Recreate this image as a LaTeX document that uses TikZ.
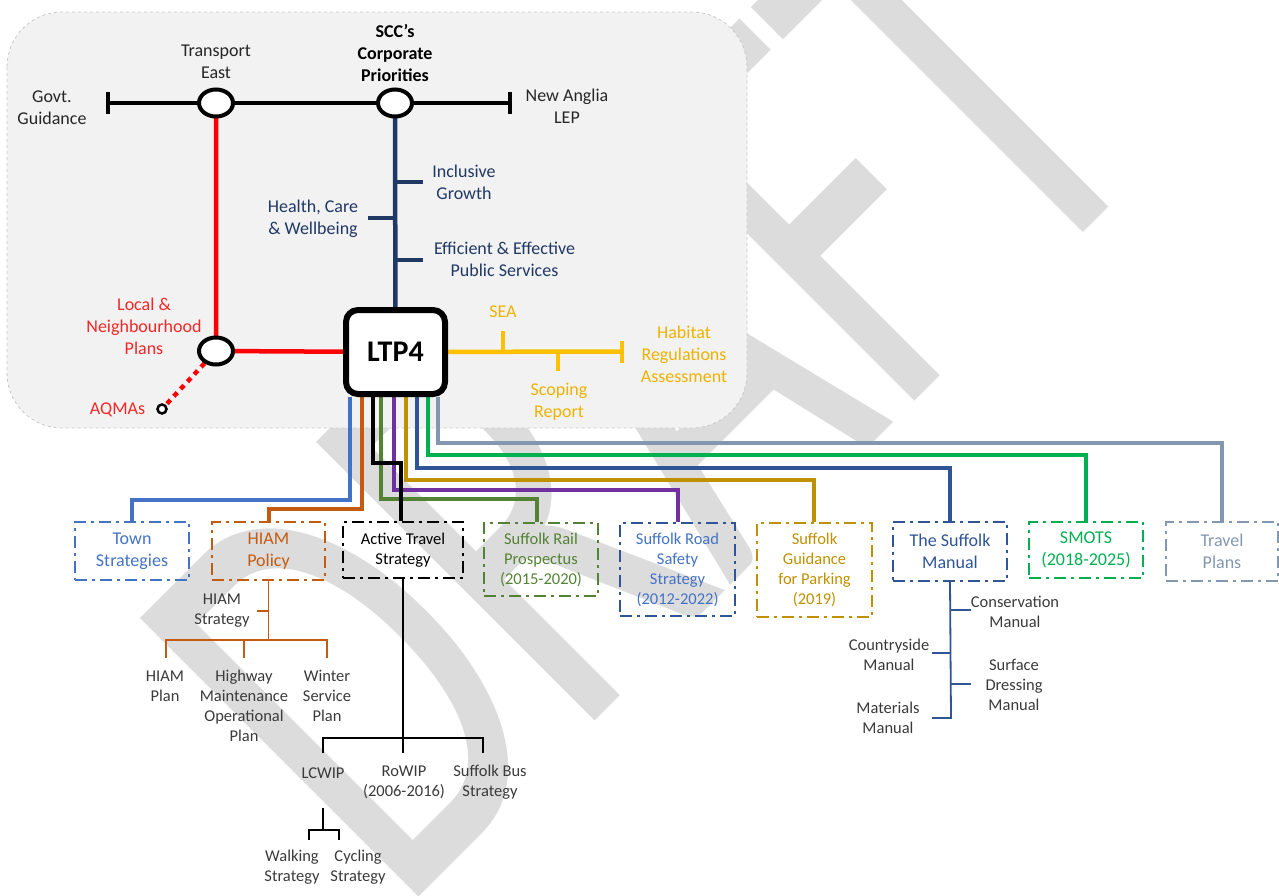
\documentclass[tikz,border=0pt]{standalone}
\usepackage{fontspec}
\setmainfont{Carlito}
\usetikzlibrary{shapes.geometric}
\definecolor{bgfill}{HTML}{F2F2F2}
\definecolor{bgline}{HTML}{C8C8C8}
\definecolor{wm}{HTML}{DCDCDC}
\definecolor{navy}{HTML}{203864}
\definecolor{lred}{HTML}{FF0000}
\definecolor{tred}{HTML}{F02828}
\definecolor{ylw}{HTML}{FFC000}
\definecolor{ylwtxt}{HTML}{EDB300}
\definecolor{ctown}{HTML}{4472C4}
\definecolor{chiam}{HTML}{C55A11}
\definecolor{crail}{HTML}{548235}
\definecolor{croad}{HTML}{7030A0}
\definecolor{cman}{HTML}{2F5597}
\definecolor{cpark}{HTML}{BF9000}
\definecolor{csmots}{HTML}{00B050}
\definecolor{ctravel}{HTML}{8497B0}
\definecolor{txt}{HTML}{262626}
\definecolor{subtxt}{HTML}{3A3A3A}
\pgfdeclarelayer{wmark}
\pgfdeclarelayer{panel}
\pgfdeclarelayer{lines}
\pgfsetlayers{wmark,panel,lines,main}
\tikzset{
 lbl/.style={font=\fontsize{18}{22}\selectfont, align=center, inner sep=0pt, text=txt},
 sml/.style={font=\fontsize{16.5}{20}\selectfont, align=center, inner sep=0pt, text=subtxt},
 stn/.style={ellipse, draw=black, line width=4pt, fill=white, minimum width=34pt, minimum height=27pt, inner sep=0pt},
 trunk/.style={line width=4.5pt},
 feed/.style={line width=4pt},
 twig/.style={line width=1.8pt},
 docbox/.style={rectangle, draw, line width=1.8pt, dash pattern=on 12pt off 5pt on 3pt off 5pt, inner sep=0pt, align=center},
 bigdoc/.style={docbox, font=\fontsize{18}{22}\selectfont},
 smalldoc/.style={docbox, font=\fontsize{16.5}{20}\selectfont},
}
\begin{document}
\begin{tikzpicture}[x=1pt,y=-1pt]
\useasboundingbox (0,0) rectangle (1279,895);
% watermark
\begin{pgfonlayer}{wmark}
\node[rotate=45, anchor=base west, inner sep=0pt, text=wm, font=\fontsize{404}{404}\selectfont] (wmtext) at (399,917) {\scalebox{1}[1.52]{DRAFT}};
\end{pgfonlayer}
% panel
\begin{pgfonlayer}{panel}
\draw[draw=bgline, dashed, fill=bgfill, rounded corners=55pt, line width=0.8pt] (7,12) rectangle (747,428);
\end{pgfonlayer}
% stations
\node[stn] (te) at (216,103) {};
\node[stn] (scc) at (395,103) {};
\node[stn] (lnp) at (216,351) {};
\node[circle, draw=black, line width=2.5pt, fill=white, minimum size=9pt, inner sep=0pt] (aq) at (162,409) {};
\node[draw=black, line width=6pt, rounded corners=12pt, fill=white, minimum width=99pt, minimum height=84pt, inner sep=0pt, font=\fontsize{30}{34}\bfseries\selectfont] (ltp) at (395.5,352) {LTP4};
\coordinate (gt) at (108,103);
\coordinate (nt) at (510,103);
% top labels
\node[lbl] (govt) at (52,108) {Govt.\\Guidance};
\node[lbl] (tel) at (216,62) {Transport\\East};
\node[lbl, font=\fontsize{18}{22}\bfseries\selectfont, text=black] (sccl) at (395,53) {SCC’s\\Corporate\\Priorities};
\node[lbl] (nal) at (567,106) {New Anglia\\LEP};
\node[lbl, text=navy] (ig) at (464,182.5) {Inclusive\\Growth};
\node[lbl, text=navy] (hcw) at (313,219) {Health, Care\\\& Wellbeing};
\node[lbl, text=navy] (eef) at (504.5,259) {Efficient \& Effective\\Public Services};
\node[lbl, text=tred] (lnpl) at (144,326.5) {Local \&\\Neighbourhood\\Plans};
\node[lbl, text=tred] (aql) at (117.5,410) {AQMAs};
\node[lbl, text=ylwtxt] (sea) at (503,312) {SEA};
\node[lbl, text=ylwtxt] (scop) at (559,401.5) {Scoping\\Report};
\node[lbl, text=ylwtxt] (hra) at (684,354.5) {Habitat\\Regulations\\Assessment};
% document boxes
\node[bigdoc, draw=ctown, text=ctown, minimum width=114pt, minimum height=58pt] (town) at (132,551) {Town\\Strategies};
\node[bigdoc, draw=chiam, text=chiam, minimum width=113pt, minimum height=58pt] (hiam) at (268.5,551) {HIAM\\Policy};
\node[smalldoc, draw=black, text=black, minimum width=120pt, minimum height=56pt] (active) at (403,550) {Active Travel\\Strategy};
\node[smalldoc, draw=crail, text=crail, minimum width=114pt, minimum height=73pt] (rail) at (541,559.5) {Suffolk Rail\\Prospectus\\(2015-2020)};
\node[smalldoc, draw=cman, text=ctown, minimum width=115pt, minimum height=93pt] (road) at (677.5,569.5) {Suffolk Road\\Safety\\Strategy\\(2012-2022)};
\node[smalldoc, draw=cpark, text=cpark, minimum width=115pt, minimum height=94pt] (park) at (814.5,570) {Suffolk\\Guidance\\for Parking\\(2019)};
\node[bigdoc, draw=cman, text=cman, minimum width=114pt, minimum height=59pt] (manual) at (950,551.5) {The Suffolk\\Manual};
\node[bigdoc, draw=csmots, text=csmots, minimum width=114pt, minimum height=56pt] (smots) at (1086,550) {SMOTS\\(2018-2025)};
\node[bigdoc, draw=ctravel, text=ctravel, minimum width=112pt, minimum height=59pt] (travel) at (1222,551.5) {Travel\\Plans};
% sub labels
\node[sml] (hstrat) at (222,611) {HIAM\\Strategy};
\node[sml] (hplan) at (165,686) {HIAM\\Plan};
\node[sml] (hmop) at (244,706) {Highway\\Maintenance\\Operational\\Plan};
\node[sml] (wsp) at (327,696) {Winter\\Service\\Plan};
\node[sml] (lcwip) at (323,773) {LCWIP};
\node[sml] (rowip) at (404,782) {RoWIP\\(2006-2016)};
\node[sml] (sbus) at (490,782) {Suffolk Bus\\Strategy};
\node[sml] (walk) at (292,867) {Walking\\Strategy};
\node[sml] (cyc) at (358,867) {Cycling\\Strategy};
\node[sml] (cons) at (1015,612) {Conservation\\Manual};
\node[sml] (ctry) at (889,655) {Countryside\\Manual};
\node[sml] (surf) at (1014,685) {Surface\\Dressing\\Manual};
\node[sml] (mat) at (888,718) {Materials\\Manual};
% coordinates for trees
\coordinate (hj) at (268.5,640);
\coordinate (aj) at (403,738);
\coordinate (lj) at (323,830);
\coordinate (mj) at (951,718);
\begin{pgfonlayer}{lines}
% black trunk
\draw[trunk, black] (gt) -- (te.center) -- (scc.center) -- (nt);
\draw[line width=4pt, black] ([yshift=11pt]gt) -- ([yshift=-11pt]gt);
\draw[line width=4pt, black] ([yshift=11pt]nt) -- ([yshift=-11pt]nt);
% red
\draw[trunk, lred] (te.center) -- (lnp.center) -- (ltp.center);
\draw[lred, line width=4.5pt, dash pattern=on 5pt off 5pt] (lnp) -- (aq);
% navy
\draw[trunk, navy] (scc.center) -- (ltp.center);
\draw[line width=4pt, navy] (395,182) -- (423,182);
\draw[line width=4pt, navy] (368,218) -- (395,218);
\draw[line width=4pt, navy] (395,260) -- (423,260);
% yellow
\coordinate (ht) at (622,351.5);
\draw[trunk, ylw] (ltp.center) -- (ht);
\draw[line width=4pt, ylw] ([yshift=11pt]ht) -- ([yshift=-11pt]ht);
\draw[line width=4pt, ylw] (503,331) -- (503,351.5);
\draw[line width=4pt, ylw] (558,351.5) -- (558,371);
% feeds
\draw[feed, ctravel] ([xshift=42.5pt]ltp.south) -- ++(0,46) -| (travel.north);
\draw[feed, csmots] ([xshift=32.5pt]ltp.south) -- ++(0,58) -| (smots.north);
\draw[feed, cman] ([xshift=21.5pt]ltp.south) -- ++(0,71) -| (manual.north);
\draw[feed, cpark] ([xshift=10.5pt]ltp.south) -- ++(0,83) -| ([xshift=-1pt]park.north);
\draw[feed, croad] ([xshift=-1.5pt]ltp.south) -- ++(0,93) -| (road.north);
\draw[feed, crail] ([xshift=-14.5pt]ltp.south) -- ++(0,102) -| ([xshift=-4pt]rail.north);
\draw[feed, chiam] ([xshift=-33.5pt]ltp.south) -- ++(0,112) -| (hiam.north);
\draw[feed, ctown] ([xshift=-45.5pt]ltp.south) -- ++(0,103) -| (town.north);
\draw[feed, black] ([xshift=-22.5pt]ltp.south) -- ++(0,66) -| ([xshift=-2pt]active.north);
% HIAM tree
\draw[twig, chiam] (hiam.south) -- (hj);
\draw[twig, chiam] (257,611) -- (hstrat.east -| hj);
\draw[twig, chiam] (166,658) -- (166,640) -- (327,640) -- (327,658);
\draw[twig, chiam] (244,640) -- (244,658);
% Active travel tree
\draw[twig, black] (active.south) -- (aj);
\draw[twig, black] (323,753) -- (323,738) -- (483,738) -- (483,753);
\draw[twig, black] (aj) -- (403,753);
\draw[twig, black] (323,808) -- (lj);
\draw[twig, black] (309,840) -- (309,830) -- (339,830) -- (339,840);
% Manual tree
\draw[twig, cman] (manual.south) -- (mj) -- (932,718);
\draw[twig, cman] (951,610) -- (971,610);
\draw[twig, cman] (932,653) -- (951,653);
\draw[twig, cman] (951,684) -- (971,684);
\end{pgfonlayer}
\end{tikzpicture}
\end{document}
